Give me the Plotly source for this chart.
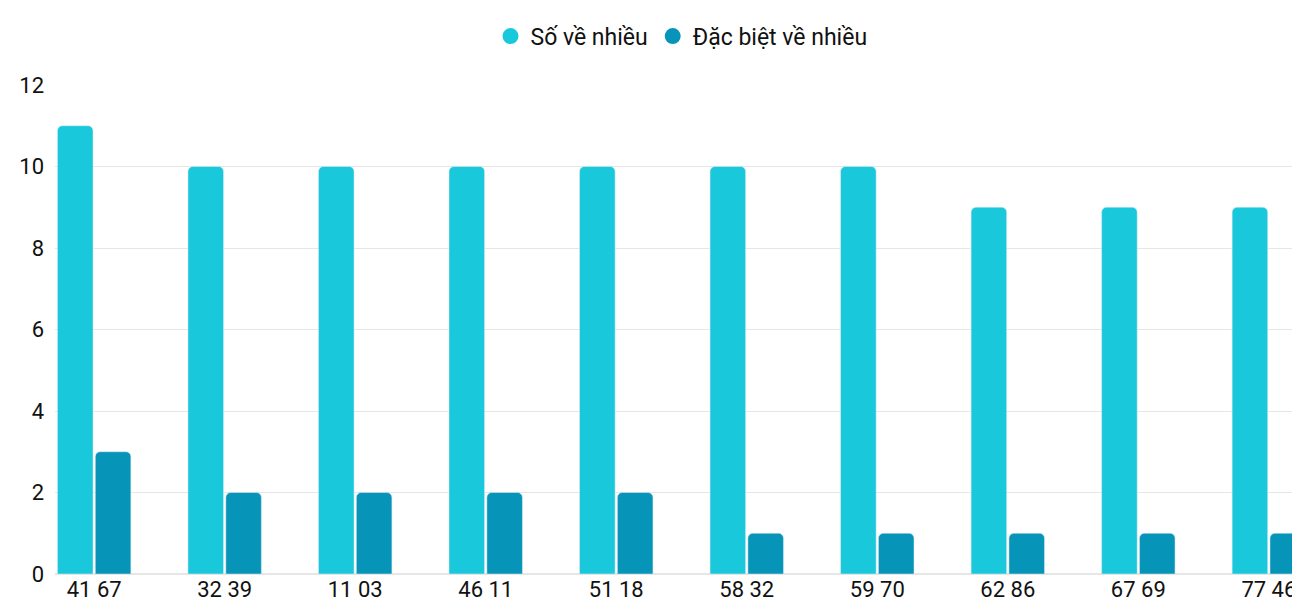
import plotly.graph_objects as go

categories = ["41 67", "32 39", "11 03", "46 11", "51 18", "58 32", "59 70", "62 86", "67 69", "77 46"]
so_ve_nhieu = [11, 10, 10, 10, 10, 10, 10, 9, 9, 9]
dac_biet = [3, 2, 2, 2, 2, 1, 1, 1, 1, 1]
names = ["Số về nhiều", "Đặc biệt về nhiều"]
colors = ["#1AC8DB", "#0695B8"]

fig = go.Figure()
for vals, nm, c in zip([so_ve_nhieu, dac_biet], names, colors):
    fig.add_bar(x=categories, y=vals, name=nm, showlegend=False, marker=dict(color=c, cornerradius=5))
for nm, c in zip(names, colors):
    fig.add_scatter(x=[None], y=[None], mode="markers", name=nm,
                    marker=dict(color=c, size=26, symbol="circle"))

fig.update_layout(
    width=1300, height=600,
    margin=dict(l=47, r=0, t=77, b=34, autoexpand=False),
    barmode="group", bargap=0.42, bargroupgap=0.06,
    plot_bgcolor="white", paper_bgcolor="white",
    font=dict(family="Roboto", size=22, color="#111"),
    legend=dict(orientation="h", x=0.5, xanchor="center", y=1.1, yanchor="middle",
                font=dict(size=23), itemsizing="trace"),
    xaxis=dict(range=[-0.3, 9.3], showgrid=False, ticks="", showline=False),
    yaxis=dict(range=[0, 12], dtick=2, gridcolor="#e6e6e6", zeroline=True, zerolinecolor="#e6e6e6",
               ticklabelstandoff=10),
)
fig.write_html("out.html")
